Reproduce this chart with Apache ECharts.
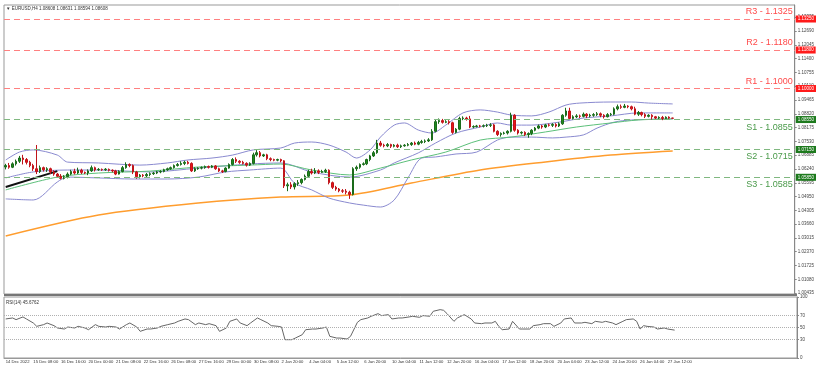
<!DOCTYPE html>
<html><head><meta charset="utf-8">
<script src="https://cdn.jsdelivr.net/npm/echarts@6/dist/echarts.min.js"></script>
<style>html,body{margin:0;padding:0;background:#fff}#c{width:817px;height:367px}</style>
</head><body><div id="c"></div>
<script>
// ---- data ----
const dateLabels = ['14 Dec 2022','15 Dec 08:00','16 Dec 16:00','20 Dec 00:00','21 Dec 08:00','22 Dec 16:00','26 Dec 08:00','27 Dec 16:00','29 Dec 00:00','30 Dec 08:00','2 Jan 20:00','4 Jan 04:00','5 Jan 12:00','6 Jan 20:00','10 Jan 04:00','11 Jan 12:00','12 Jan 20:00','16 Jan 04:00','17 Jan 12:00','18 Jan 20:00','20 Jan 04:00','23 Jan 12:00','24 Jan 20:00','26 Jan 04:00','27 Jan 12:00'];
const barsPerLabel = 8;
const totalSlots = 230;
// [open, close, low, high]
const candles = [
[1.0633,1.0640,1.0622,1.0648],[1.0640,1.0632,1.0625,1.0652],[1.0632,1.0648,1.0628,1.0655],[1.0648,1.0660,1.0640,1.0668],[1.0660,1.0675,1.0652,1.0685],[1.0675,1.0668,1.0645,1.0690],
[1.0668,1.0655,1.0645,1.0675],[1.0655,1.0640,1.0632,1.0662],[1.0640,1.0625,1.0615,1.0648],[1.0625,1.0612,1.0600,1.0736],[1.0612,1.0630,1.0605,1.0640],[1.0630,1.0620,1.0612,1.0635],
[1.0620,1.0625,1.0610,1.0632],[1.0625,1.0610,1.0600,1.0630],[1.0610,1.0600,1.0592,1.0618],[1.0600,1.0590,1.0582,1.0605],[1.0590,1.0580,1.0575,1.0600],[1.0580,1.0588,1.0575,1.0595],
[1.0588,1.0600,1.0580,1.0608],[1.0600,1.0612,1.0595,1.0620],[1.0612,1.0605,1.0598,1.0625],[1.0605,1.0618,1.0600,1.0630],[1.0618,1.0608,1.0600,1.0625],[1.0608,1.0605,1.0600,1.0612],
[1.0605,1.0615,1.0595,1.0622],[1.0615,1.0630,1.0610,1.0640],[1.0630,1.0620,1.0612,1.0635],[1.0620,1.0622,1.0615,1.0628],[1.0622,1.0620,1.0615,1.0626],[1.0620,1.0623,1.0615,1.0628],
[1.0622,1.0618,1.0612,1.0626],[1.0618,1.0615,1.0608,1.0622],[1.0615,1.0600,1.0595,1.0620],[1.0600,1.0612,1.0598,1.0618],[1.0612,1.0630,1.0608,1.0638],[1.0630,1.0645,1.0625,1.0655],
[1.0645,1.0640,1.0632,1.0650],[1.0640,1.0610,1.0600,1.0645],[1.0610,1.0588,1.0578,1.0615],[1.0588,1.0595,1.0580,1.0600],[1.0595,1.0592,1.0585,1.0600],[1.0592,1.0598,1.0585,1.0605],
[1.0598,1.0602,1.0590,1.0608],[1.0602,1.0605,1.0596,1.0610],[1.0605,1.0610,1.0600,1.0615],[1.0610,1.0612,1.0604,1.0618],[1.0612,1.0620,1.0608,1.0625],[1.0620,1.0625,1.0615,1.0630],
[1.0625,1.0630,1.0620,1.0635],[1.0630,1.0640,1.0626,1.0645],[1.0640,1.0645,1.0635,1.0652],[1.0645,1.0650,1.0640,1.0660],
[1.0650,1.0655,1.0642,1.0662],[1.0655,1.0650,1.0645,1.0662],[1.0650,1.0615,1.0610,1.0655],[1.0615,1.0625,1.0610,1.0632],[1.0625,1.0628,1.0620,1.0632],[1.0628,1.0630,1.0622,1.0636],
[1.0630,1.0635,1.0625,1.0640],[1.0635,1.0632,1.0626,1.0640],[1.0632,1.0638,1.0628,1.0642],[1.0638,1.0625,1.0620,1.0642],[1.0625,1.0615,1.0610,1.0630],[1.0615,1.0612,1.0605,1.0620],
[1.0612,1.0628,1.0608,1.0632],[1.0628,1.0645,1.0625,1.0650],[1.0645,1.0668,1.0640,1.0675],[1.0668,1.0660,1.0652,1.0678],[1.0660,1.0655,1.0648,1.0665],[1.0655,1.0650,1.0645,1.0662],
[1.0650,1.0642,1.0635,1.0655],[1.0642,1.0650,1.0638,1.0655],[1.0650,1.0690,1.0645,1.0700],[1.0690,1.0700,1.0682,1.0712],[1.0700,1.0685,1.0678,1.0708],[1.0685,1.0690,1.0680,1.0695],
[1.0690,1.0672,1.0665,1.0695],[1.0672,1.0668,1.0660,1.0678],[1.0668,1.0665,1.0660,1.0672],[1.0665,1.0668,1.0660,1.0672],[1.0668,1.0662,1.0655,1.0672],
[1.0662,1.0545,1.0535,1.0665],[1.0545,1.0550,1.0520,1.0560],[1.0550,1.0540,1.0530,1.0562],[1.0540,1.0555,1.0528,1.0562],[1.0555,1.0560,1.0545,1.0572],[1.0560,1.0575,1.0552,1.0580],
[1.0575,1.0590,1.0570,1.0598],[1.0590,1.0612,1.0585,1.0620],[1.0612,1.0605,1.0598,1.0625],[1.0605,1.0615,1.0600,1.0628],[1.0615,1.0608,1.0600,1.0622],[1.0608,1.0612,1.0605,1.0620],
[1.0612,1.0618,1.0605,1.0625],[1.0618,1.0560,1.0552,1.0622],[1.0560,1.0538,1.0530,1.0565],[1.0538,1.0530,1.0522,1.0545],[1.0530,1.0522,1.0515,1.0535],[1.0522,1.0520,1.0512,1.0530],
[1.0520,1.0515,1.0505,1.0530],[1.0515,1.0505,1.0484,1.0522],[1.0505,1.0625,1.0500,1.0632],[1.0625,1.0632,1.0615,1.0640],[1.0632,1.0645,1.0625,1.0650],[1.0645,1.0648,1.0640,1.0655],
[1.0648,1.0668,1.0642,1.0672],[1.0668,1.0685,1.0660,1.0690],[1.0685,1.0700,1.0680,1.0708],[1.0700,1.0745,1.0695,1.0760],[1.0745,1.0735,1.0728,1.0755],[1.0735,1.0732,1.0725,1.0742],
[1.0732,1.0738,1.0726,1.0745],[1.0738,1.0730,1.0722,1.0742],[1.0730,1.0735,1.0725,1.0740],[1.0735,1.0728,1.0722,1.0742],[1.0728,1.0732,1.0722,1.0738],[1.0732,1.0735,1.0728,1.0740],
[1.0735,1.0738,1.0730,1.0745],[1.0738,1.0745,1.0732,1.0750],[1.0745,1.0740,1.0735,1.0752],[1.0740,1.0748,1.0735,1.0755],[1.0748,1.0752,1.0742,1.0760],[1.0752,1.0755,1.0745,1.0762],
[1.0755,1.0760,1.0750,1.0768],[1.0760,1.0800,1.0755,1.0810],[1.0800,1.0845,1.0795,1.0855],[1.0845,1.0850,1.0835,1.0860],[1.0850,1.0842,1.0836,1.0858],[1.0842,1.0845,1.0838,1.0852],
[1.0845,1.0840,1.0832,1.0852],[1.0840,1.0795,1.0788,1.0845],[1.0795,1.0810,1.0790,1.0815],[1.0810,1.0860,1.0805,1.0868],[1.0860,1.0862,1.0852,1.0870],[1.0862,1.0858,1.0850,1.0868],
[1.0858,1.0820,1.0815,1.0872],[1.0820,1.0822,1.0815,1.0828],[1.0822,1.0825,1.0818,1.0830],[1.0825,1.0824,1.0818,1.0830],[1.0824,1.0826,1.0818,1.0832],[1.0826,1.0828,1.0820,1.0835],
[1.0828,1.0830,1.0820,1.0838],[1.0830,1.0800,1.0795,1.0835],[1.0800,1.0785,1.0778,1.0805],[1.0785,1.0790,1.0775,1.0795],[1.0790,1.0792,1.0785,1.0798],[1.0792,1.0800,1.0785,1.0805],
[1.0800,1.0875,1.0795,1.0887],[1.0875,1.0805,1.0798,1.0880],[1.0805,1.0792,1.0785,1.0810],[1.0792,1.0795,1.0785,1.0800],[1.0795,1.0785,1.0778,1.0800],[1.0785,1.0790,1.0770,1.0795],
[1.0790,1.0805,1.0782,1.0810],[1.0805,1.0815,1.0800,1.0820],[1.0815,1.0825,1.0810,1.0832],[1.0825,1.0820,1.0812,1.0830],[1.0820,1.0830,1.0815,1.0835],[1.0830,1.0828,1.0822,1.0836],
[1.0828,1.0832,1.0820,1.0838],[1.0832,1.0825,1.0818,1.0838],[1.0825,1.0835,1.0820,1.0842],[1.0835,1.0875,1.0830,1.0880],[1.0875,1.0895,1.0868,1.0910],[1.0895,1.0860,1.0855,1.0910],
[1.0860,1.0868,1.0855,1.0875],[1.0868,1.0872,1.0862,1.0880],[1.0872,1.0870,1.0862,1.0878],[1.0870,1.0880,1.0865,1.0888],[1.0880,1.0872,1.0862,1.0885],[1.0872,1.0875,1.0865,1.0882],
[1.0875,1.0878,1.0868,1.0885],[1.0878,1.0882,1.0872,1.0890],[1.0882,1.0875,1.0866,1.0888],[1.0875,1.0868,1.0860,1.0880],[1.0868,1.0878,1.0865,1.0885],[1.0878,1.0880,1.0872,1.0886],
[1.0880,1.0905,1.0875,1.0912],[1.0905,1.0915,1.0898,1.0925],[1.0915,1.0912,1.0905,1.0925],[1.0912,1.0918,1.0908,1.0928],[1.0918,1.0915,1.0908,1.0922],[1.0915,1.0905,1.0898,1.0920],
[1.0905,1.0880,1.0875,1.0915],[1.0880,1.0888,1.0872,1.0895],[1.0888,1.0878,1.0870,1.0892],[1.0878,1.0870,1.0862,1.0885],[1.0870,1.0875,1.0865,1.0880],[1.0875,1.0868,1.0855,1.0880],
[1.0868,1.0862,1.0855,1.0872],[1.0862,1.0865,1.0855,1.0870],[1.0865,1.0860,1.0852,1.0872],[1.0860,1.0866,1.0855,1.0870],[1.0866,1.0862,1.0858,1.0870],[1.0862,1.0861,1.0859,1.0863]
];
// indicator lines: [bar index, price]
const bbUpper = [[0,1.0666],[4,1.0703],[8,1.0713],[15,1.0689],[18,1.0656],[27,1.0652],[39,1.0642],[47,1.0652],[53,1.0666],[60,1.0675],[66,1.0689],[72,1.0713],[80,1.0722],[84,1.0745],[89,1.0750],[94,1.0736],[99,1.0703],[102,1.0675],[106,1.0713],[109,1.0773],[113,1.0829],[116,1.0839],[120,1.0806],[124,1.0792],[128,1.0829],[133,1.0886],[138,1.0900],[143,1.0890],[147,1.0876],[153,1.0872],[158,1.0890],[163,1.0923],[167,1.0932],[176,1.0937],[182,1.0937],[187,1.0932],[194,1.0928]];
const bbMiddle = [[0,1.0582],[8,1.0610],[18,1.0619],[27,1.0619],[42,1.0610],[56,1.0628],[71,1.0647],[80,1.0652],[89,1.0610],[100,1.0586],[109,1.0619],[113,1.0652],[120,1.0699],[125,1.0745],[131,1.0792],[138,1.0820],[143,1.0839],[147,1.0829],[153,1.0829],[161,1.0843],[168,1.0862],[176,1.0872],[184,1.0886],[194,1.0886]];
const bbLower = [[0,1.0484],[8,1.0479],[15,1.0563],[18,1.0586],[27,1.0582],[37,1.0577],[47,1.0577],[56,1.0586],[64,1.0610],[71,1.0619],[80,1.0628],[84,1.0558],[89,1.0526],[94,1.0488],[100,1.0465],[104,1.0455],[109,1.0446],[113,1.0479],[117,1.0582],[121,1.0675],[125,1.0680],[131,1.0694],[137,1.0703],[143,1.0759],[147,1.0773],[153,1.0773],[159,1.0769],[163,1.0773],[168,1.0783],[172,1.0815],[177,1.0843],[182,1.0853],[194,1.0858]];
const maGreen = [[0,1.0526],[15,1.0586],[27,1.0605],[42,1.0614],[56,1.0633],[71,1.0642],[80,1.0647],[89,1.0619],[100,1.0596],[109,1.0628],[118,1.0666],[128,1.0703],[138,1.0759],[147,1.0773],[157,1.0797],[166,1.0820],[176,1.0839],[184,1.0853],[194,1.0858]];
const maOrange = [[0,1.0311],[27,1.0409],[56,1.0465],[80,1.0493],[100,1.0502],[118,1.0558],[138,1.0619],[157,1.0657],[176,1.0689],[194,1.0708]];
const trendBlack = [[0,1.0540],[15,1.0614]];
const rsi = [[0,64],[2,65.6],[3,62.9],[5,67.3],[6,64],[8,57.4],[9,51.9],[11,54.7],[12,57.4],[14,53],[15,49.2],[17,47.5],[18,50.8],[20,49.2],[21,51.9],[23,49.2],[24,46.4],[26,54.7],[27,51.9],[29,50.8],[30,51.9],[32,50.8],[33,47.5],[35,54.7],[36,57.4],[38,50.8],[39,43.7],[41,47.5],[42,47.5],[44,49.2],[45,51.9],[47,54.7],[49,57.4],[50,60.1],[52,64],[53,62.9],[55,54.7],[56,57.4],[58,54.7],[59,56.3],[61,53],[62,43.7],[64,49.2],[65,60.1],[67,64],[68,57.4],[70,53],[71,57.4],[73,65.6],[74,62.9],[76,57.4],[77,53],[79,51.9],[80,50.8],[81,30],[83,30],[84,32.7],[86,38.2],[87,46.4],[89,47.5],[90,47.5],[92,49.2],[93,50.8],[94,35.5],[96,32.7],[97,32.7],[99,31.1],[100,35.5],[102,58.5],[103,62.9],[105,65.6],[106,68.4],[108,72.7],[109,69.5],[111,71.1],[112,64],[114,65.6],[115,65.6],[117,67.3],[118,68.4],[120,66.7],[121,69.5],[123,68.4],[124,76.6],[126,79.3],[127,78.2],[128,72.7],[130,60.1],[131,65.6],[132,68.4],[133,71.1],[135,64],[136,57.4],[138,56.3],[139,57.4],[141,57.4],[142,60.1],[143,51.9],[144,46.4],[146,47.5],[147,60.1],[149,47.5],[150,47.5],[152,47.5],[153,53],[155,54.7],[156,56.3],[158,56.3],[159,51.9],[161,57.4],[162,64],[164,65.6],[165,57.4],[167,57.4],[168,58.5],[170,56.3],[171,60.1],[173,58.5],[174,60.1],[176,57.4],[177,54.7],[179,60.1],[180,62.9],[182,64],[183,60.1],[184,47.5],[185,53],[186,51.9],[188,50.8],[189,47.5],[191,49.2],[192,47.5],[194,45.7]];
const resistances = [['R3',1.1325],['R2',1.1180],['R1',1.1000]];
const supports = [['S1',1.0855],['S2',1.0715],['S3',1.0585]];
const priceTicks = ['1.00435','1.01080','1.01725','1.02370','1.03015','1.03660','1.04305','1.04950','1.05595','1.06240','1.06885','1.07530','1.08175','1.08820','1.09465','1.10110','1.10755','1.11400','1.12045','1.12690','1.13335'];
const rsiTicks = [0,30,50,70,100];
const rsiLevels = [30,50,70];
const headerText = '\u25BC EURUSD,H4 1.08608 1.08631 1.08594 1.08608';
const rsiText = 'RSI(14) 45.6762';

// ---- chart ----
const cats = [];
for (let i = 0; i < totalSlots; i++) {
  cats.push(i % barsPerLabel === 0 && dateLabels[i / barsPerLabel] ? dateLabels[i / barsPerLabel] : '');
}
const RED = '#ff4a4a', GREEN = '#4a9a4a';
const font = 'Liberation Sans, Arial, sans-serif';
const levelItems = [];
resistances.forEach(([n, v]) => {
  levelItems.push({yAxis: v, lineStyle: {color: '#ff8080', type: [6, 4], width: 1},
    label: {show: true, position: 'insideEndTop', formatter: n + ' - ' + v.toFixed(4), color: RED, fontSize: 9, fontFamily: font, distance: [2, 3]}});
  levelItems.push({yAxis: v, lineStyle: {color: '#ff8080', type: [6, 4], width: 1},
    label: {show: true, position: 'end', formatter: v.toFixed(5), color: '#fff', backgroundColor: '#ff1a1a', fontSize: 4.5, padding: [1, 2], distance: 1, fontFamily: font}});
});
supports.forEach(([n, v]) => {
  levelItems.push({yAxis: v, lineStyle: {color: '#80b880', type: [6, 4], width: 1},
    label: {show: true, position: 'insideEndBottom', formatter: n + ' - ' + v.toFixed(4), color: GREEN, fontSize: 9, fontFamily: font, distance: [2, 3]}});
  levelItems.push({yAxis: v, lineStyle: {color: '#80b880', type: [6, 4], width: 1},
    label: {show: true, position: 'end', formatter: v.toFixed(5), color: '#fff', backgroundColor: '#1d7a1d', fontSize: 4.5, padding: [1, 2], distance: 1, fontFamily: font}});
});

const chart = echarts.init(document.getElementById('c'), null, {renderer: 'canvas'});
const option = {
  animation: false,
  backgroundColor: '#fff',
  textStyle: {fontFamily: font},
  grid: [
    {left: 4, right: 20, top: 5, height: 289, show: true, borderColor: '#999', borderWidth: 1},
    {left: 4, right: 20, top: 297, height: 61, show: true, borderColor: '#999', borderWidth: 1}
  ],
  xAxis: [
    {type: 'category', gridIndex: 0, data: cats, boundaryGap: true, axisLine: {show: false}, axisTick: {show: false}, axisLabel: {show: false}, splitLine: {show: false}},
    {type: 'category', gridIndex: 1, data: cats, boundaryGap: true, axisLine: {show: true, lineStyle: {color: '#999'}}, axisTick: {show: false},
      axisLabel: {show: true, interval: 0, formatter: v => v, fontSize: 4.2, color: '#333', align: 'left', margin: 2, fontFamily: font}, splitLine: {show: false}}
  ],
  yAxis: [
    {type: 'value', gridIndex: 0, position: 'right', min: 1.00394, max: 1.13905,
      axisLine: {show: true, lineStyle: {color: '#888'}},
      axisTick: {show: true, length: 2, lineStyle: {color: '#888'}, customValues: priceTicks.map(Number)},
      axisLabel: {show: true, fontSize: 4.5, color: '#444', margin: 3, customValues: priceTicks.map(Number), formatter: v => v.toFixed(5), fontFamily: font},
      splitLine: {show: false}},
    {type: 'value', gridIndex: 1, position: 'right', min: 0, max: 100,
      axisLine: {show: true, lineStyle: {color: '#888'}},
      axisTick: {show: true, length: 2, lineStyle: {color: '#888'}, customValues: rsiTicks},
      axisLabel: {show: true, fontSize: 4.5, color: '#444', margin: 3, customValues: rsiTicks, fontFamily: font},
      splitLine: {show: false}}
  ],
  series: [
    {type: 'line', xAxisIndex: 0, yAxisIndex: 0, data: maOrange, showSymbol: false, smooth: 0.3, lineStyle: {color: '#ff9d2e', width: 1.5}, z: 2},
    {type: 'line', xAxisIndex: 0, yAxisIndex: 0, data: bbUpper, showSymbol: false, smooth: 0.3, lineStyle: {color: '#8a8ad0', width: 1}, z: 2},
    {type: 'line', xAxisIndex: 0, yAxisIndex: 0, data: bbMiddle, showSymbol: false, smooth: 0.3, lineStyle: {color: '#8a8ad0', width: 1}, z: 2},
    {type: 'line', xAxisIndex: 0, yAxisIndex: 0, data: bbLower, showSymbol: false, smooth: 0.3, lineStyle: {color: '#8a8ad0', width: 1}, z: 2},
    {type: 'line', xAxisIndex: 0, yAxisIndex: 0, data: maGreen, showSymbol: false, smooth: 0.3, lineStyle: {color: '#5cc07a', width: 1}, z: 2},
    {type: 'line', xAxisIndex: 0, yAxisIndex: 0, data: trendBlack, showSymbol: false, lineStyle: {color: '#111', width: 2}, z: 3},
    {type: 'candlestick', xAxisIndex: 0, yAxisIndex: 0, data: candles, barWidth: 2, z: 4,
      itemStyle: {color: '#1f8a1f', color0: '#e8141a', borderColor: '#1a6b1a', borderColor0: '#c0141a', borderWidth: 1},
      markLine: {symbol: ['none', 'none'], silent: true, animation: false, precision: 5, data: levelItems}},
    {type: 'line', xAxisIndex: 1, yAxisIndex: 1, data: rsi, showSymbol: false, lineStyle: {color: '#666', width: 1},
      markLine: {symbol: ['none', 'none'], silent: true, precision: 2, label: {show: false}, lineStyle: {color: '#b0b0b0', type: 'dotted', width: 1},
        data: rsiLevels.map(v => ({yAxis: v}))}}
  ],
  graphic: [
    {type: 'text', left: 6, top: 6, style: {text: headerText, fontSize: 4.5, fill: '#333', fontFamily: font}},
    {type: 'text', left: 6, top: 300, style: {text: rsiText, fontSize: 4.5, fill: '#333', fontFamily: font}},
    {type: 'rect', shape: {x: 4, y: 294, width: 793, height: 2}, style: {fill: '#777'}}
  ]
};
chart.setOption(option);
</script></body></html>
